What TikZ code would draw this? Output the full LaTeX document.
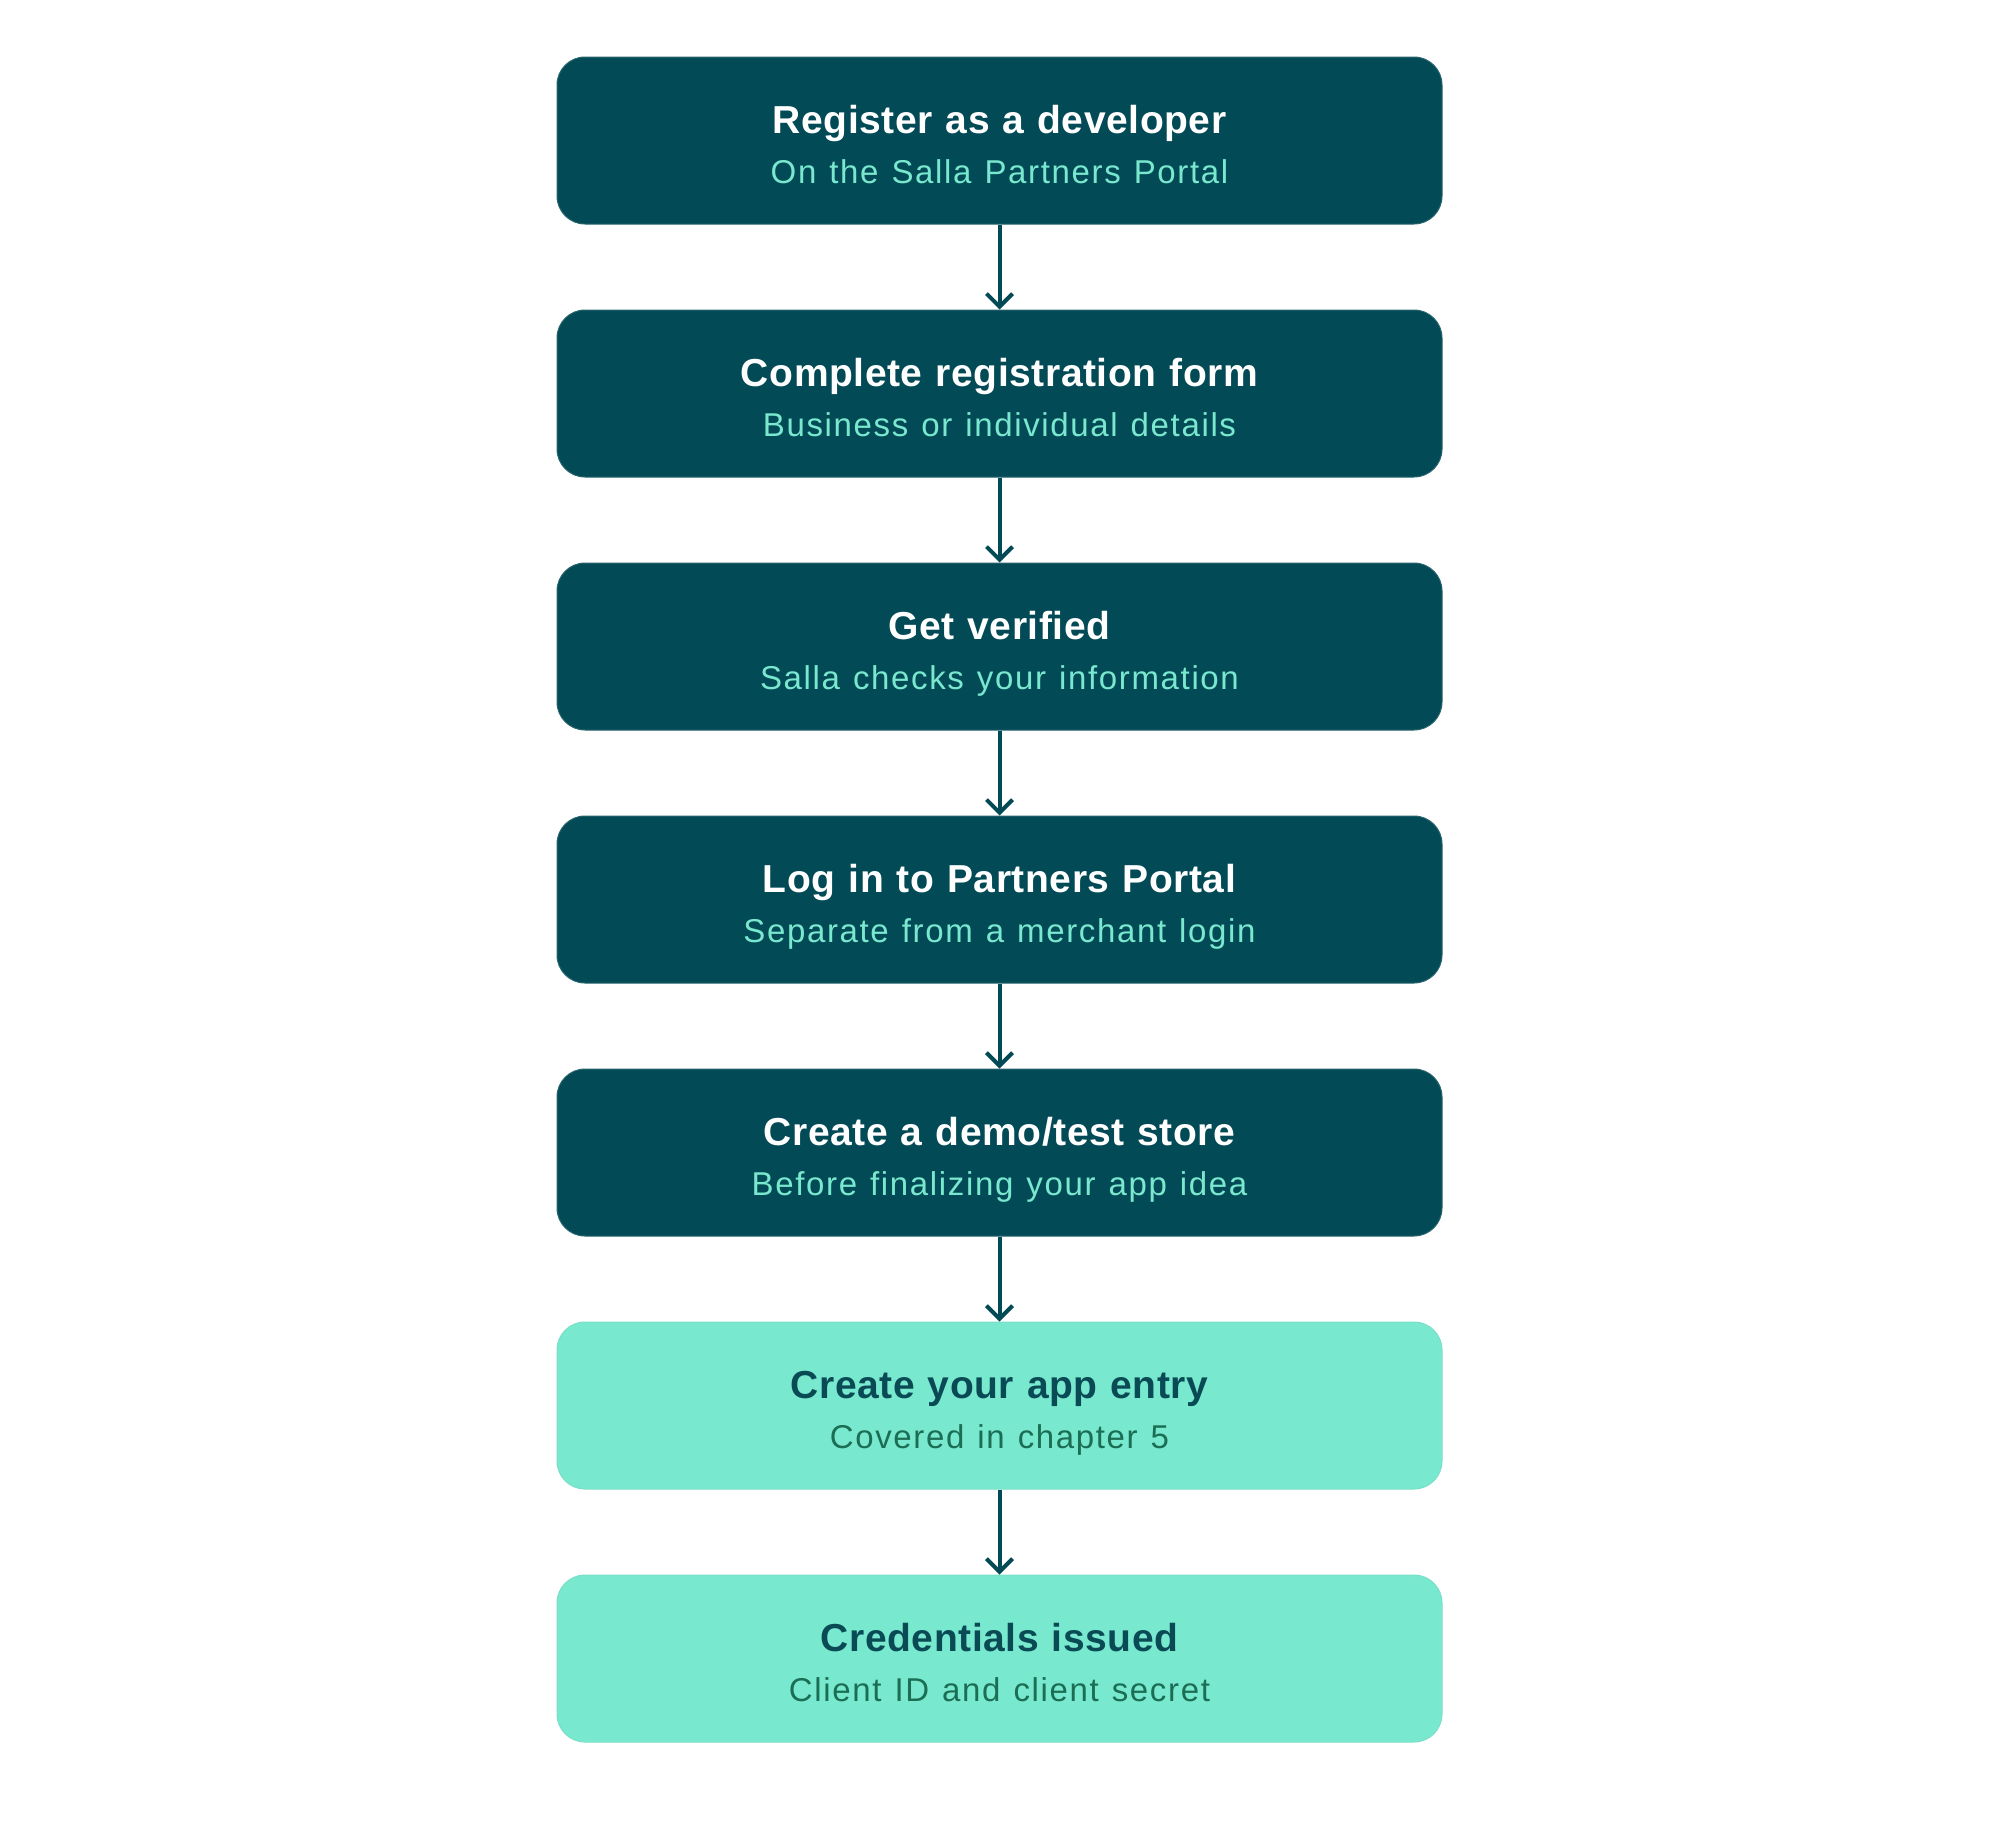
\documentclass[tikz,border=0pt]{standalone}
\usepackage{xcolor}
\usepackage{fontspec}
\setmainfont{Liberation Sans}
\newfontfamily\headfont{Liberation Sans}[LetterSpace=1.5]
\newfontfamily\subfont{Liberation Sans}[LetterSpace=5]
\usepackage{tikz}
\usetikzlibrary{arrows.meta, positioning}

\definecolor{stepdark}{HTML}{024A56}
\definecolor{steplight}{HTML}{78E9CF}
\definecolor{subonDark}{HTML}{79E8CE}
\definecolor{headonLight}{HTML}{0A4A55}
\definecolor{subonLight}{HTML}{1B6E54}

% title line and grey-green subtitle line of one step
\newcommand{\steptext}[2]{\rule{0pt}{42pt}{\headfont\bfseries #1}\\{\subfont\fontsize{33}{50}\selectfont #2}\rule[-7pt]{0pt}{7pt}}

\begin{document}
\begin{tikzpicture}[x=1pt, y=1pt,
				node distance=85pt,
				stepbox/.style={rectangle, rounded corners=28pt, minimum width=885pt,
					minimum height=167pt, inner sep=0pt, align=center, text width=870pt,
					font=\fontsize{39}{50}\selectfont},
				darkbox/.style={stepbox, fill=stepdark, draw=stepdark!85!white, line width=1pt, text=white},
				lightbox/.style={stepbox, fill=steplight, draw=steplight!90!gray, line width=1pt, text=headonLight},
				flow/.style={-{Straight Barb[length=13pt, width=26pt, line width=4pt]}, line width=4pt, stepdark}]
				\useasboundingbox (0,0) rectangle (1999,-1823);
				\node at (999.5,-140.5) (reg) [darkbox] {\steptext{Register as a developer}{\textcolor{subonDark}{On the Salla Partners Portal}}};
				\node (form) [darkbox, below=of reg] {\steptext{Complete registration form}{\textcolor{subonDark}{Business or individual details}}};
				\node (verify) [darkbox, below=of form] {\steptext{Get verified}{\textcolor{subonDark}{Salla checks your information}}};
				\node (login) [darkbox, below=of verify] {\steptext{Log in to Partners Portal}{\textcolor{subonDark}{Separate from a merchant login}}};
				\node (demo) [darkbox, below=of login] {\steptext{Create a demo/test store}{\textcolor{subonDark}{Before finalizing your app idea}}};
				\node (app) [lightbox, below=of demo] {\steptext{Create your app entry}{\textcolor{subonLight}{Covered in chapter 5}}};
				\node (cred) [lightbox, below=of app] {\steptext{Credentials issued}{\textcolor{subonLight}{Client ID and client secret}}};
				\draw[flow] (reg) -- (form);
				\draw[flow] (form) -- (verify);
				\draw[flow] (verify) -- (login);
				\draw[flow] (login) -- (demo);
				\draw[flow] (demo) -- (app);
				\draw[flow] (app) -- (cred);
			\end{tikzpicture}
\end{document}
